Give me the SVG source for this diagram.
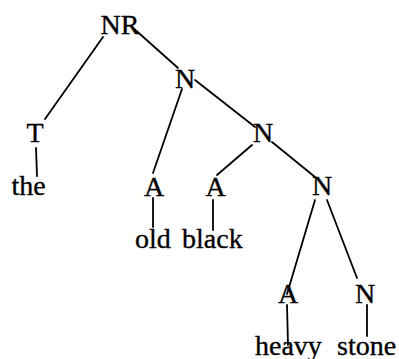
<svg xmlns="http://www.w3.org/2000/svg" width="399" height="359" viewBox="0 0 399 359">
<style>
text{font-family:"Liberation Serif","Times New Roman",serif;font-size:28px;fill:#000;stroke:#000;stroke-width:0.35}
.c{text-anchor:middle}
#connectors line{stroke:#000;stroke-width:1.8;stroke-linecap:round}
</style>
<rect width="399" height="359" fill="#fff"/>
<g id="connectors">
<line x1="103" y1="37" x2="45" y2="119"/>
<line x1="132" y1="27" x2="178" y2="68"/>
<line x1="182" y1="89" x2="153" y2="173"/>
<line x1="195" y1="80" x2="255" y2="127"/>
<line x1="252" y1="145" x2="217" y2="175"/>
<line x1="272" y1="142" x2="315" y2="177"/>
<line x1="315" y1="200" x2="287" y2="294"/>
<line x1="327" y1="200" x2="357" y2="278"/>
<line x1="36" y1="148" x2="37" y2="176"/>
<line x1="153" y1="198" x2="153" y2="227"/>
<line x1="213" y1="200" x2="213" y2="230"/>
<line x1="287" y1="305" x2="288" y2="345"/>
<line x1="367" y1="305" x2="367" y2="336"/>
</g>
<g id="n-NR"><text class="c" x="120" y="34">NR</text></g>
<g id="n-T"><text class="c" x="35" y="142">T</text></g>
<g id="n-the"><text class="c" x="28.5" y="195">the</text></g>
<g id="n-N1"><text class="c" x="185" y="88">N</text></g>
<g id="n-A1"><text class="c" x="154" y="196">A</text></g>
<g id="n-old"><text x="135" y="248">old</text></g>
<g id="n-N2"><text class="c" x="263" y="142">N</text></g>
<g id="n-A2"><text class="c" x="215.5" y="196">A</text></g>
<g id="n-black"><text x="182" y="248">black</text></g>
<g id="n-N3"><text class="c" x="322" y="195">N</text></g>
<g id="n-A3"><text class="c" x="288" y="303">A</text></g>
<g id="n-heavy"><text x="255" y="355">heavy</text></g>
<g id="n-N4"><text class="c" x="365" y="303">N</text></g>
<g id="n-stone"><text x="337" y="355">stone</text></g>
</svg>
